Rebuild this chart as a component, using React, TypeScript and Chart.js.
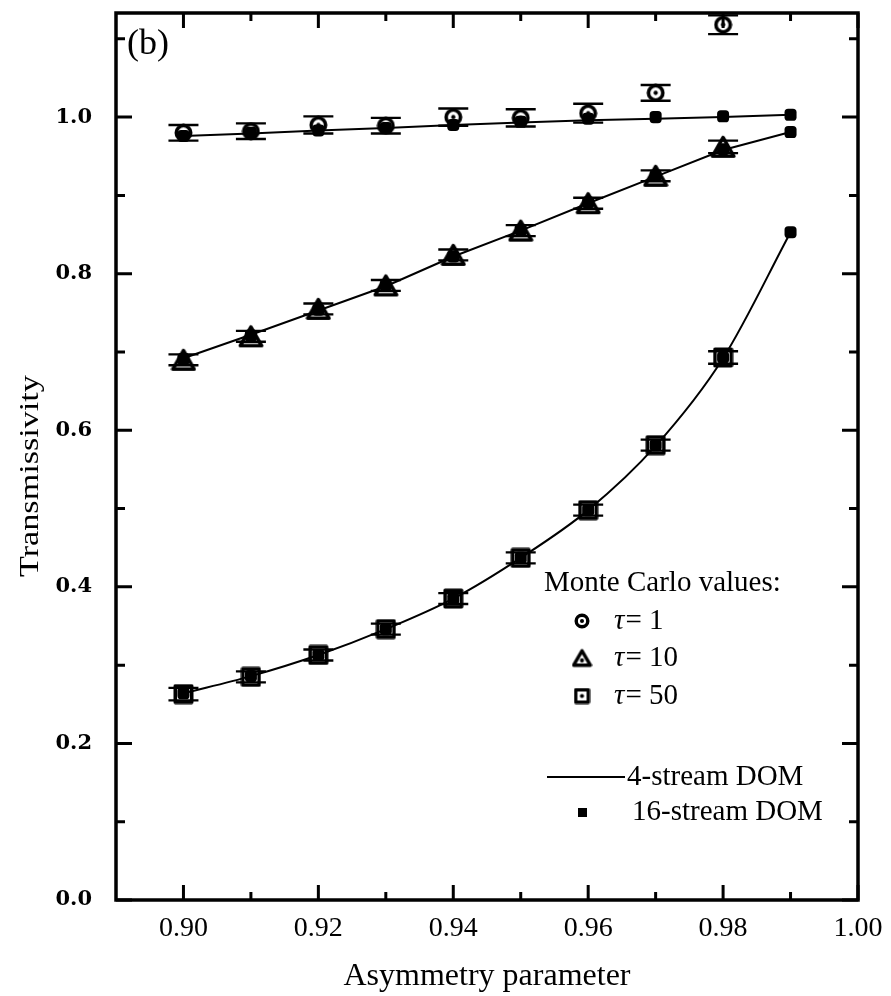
import React, { useEffect, useRef } from 'react';
import { Chart, registerables } from 'chart.js';
Chart.register(...registerables);

// ---- data ----
const asymmetry = [0.90, 0.91, 0.92, 0.93, 0.94, 0.95, 0.96, 0.97, 0.98, 0.99];
const mcAsymmetry = [0.90, 0.91, 0.92, 0.93, 0.94, 0.95, 0.96, 0.97, 0.98];

const dom4Tau1 = [0.976, 0.979, 0.983, 0.986, 0.990, 0.993, 0.996, 0.998, 1.000, 1.003];
const dom16Tau1 = [0.976, 0.980, 0.983, 0.986, 0.990, 0.994, 0.998, 1.000, 1.001, 1.003];
const dom4Tau10 = [0.692, 0.722, 0.753, 0.784, 0.822, 0.855, 0.890, 0.924, 0.958, 0.981];
const dom16Tau10 = [0.691, 0.721, 0.754, 0.785, 0.822, 0.856, 0.891, 0.925, 0.959, 0.981];
const dom4Tau50 = [0.264, 0.286, 0.313, 0.346, 0.385, 0.437, 0.498, 0.580, 0.692, 0.853];
const dom16Tau50 = [0.264, 0.286, 0.313, 0.346, 0.385, 0.437, 0.498, 0.581, 0.693, 0.853];

const mcTau1 = [0.980, 0.982, 0.990, 0.989, 1.000, 0.999, 1.005, 1.031, 1.118];
const mcTau1Err = [0.010, 0.010, 0.011, 0.010, 0.011, 0.011, 0.012, 0.010, 0.012];
const mcTau10 = [0.690, 0.720, 0.755, 0.785, 0.824, 0.855, 0.890, 0.925, 0.962];
const mcTau10Err = [0.007, 0.007, 0.007, 0.007, 0.007, 0.007, 0.007, 0.007, 0.008];
const mcTau50 = [0.263, 0.285, 0.313, 0.346, 0.385, 0.437, 0.498, 0.581, 0.693];
const mcTau50Err = [0.008, 0.007, 0.007, 0.007, 0.007, 0.007, 0.007, 0.007, 0.008];

const xMajorTicks = [0.90, 0.92, 0.94, 0.96, 0.98, 1.00];
const xMinorTicks = [0.91, 0.93, 0.95, 0.97, 0.99];
const yMajorTicks = [0.0, 0.2, 0.4, 0.6, 0.8, 1.0];
const yMinorTicks = [0.1, 0.3, 0.5, 0.7, 0.9, 1.1];

const xTitle = 'Asymmetry parameter';
const yTitle = 'Transmissivity';
const panelLabel = '(b)';
const legendTitle = 'Monte Carlo values:';
const legendTaus = ['1', '10', '50'];
const legendDom4 = '4-stream DOM';
const legendDom16 = '16-stream DOM';

const SERIF = '"Liberation Serif", "Times New Roman", serif';

function pts(xs: number[], ys: number[]) {
  return ys.map((y, i) => ({ x: xs[i], y }));
}

function makeMarker(kind: string, size: number, lw: number): HTMLCanvasElement {
  const c = document.createElement('canvas');
  c.width = size;
  c.height = size;
  const ctx = c.getContext('2d')!;
  ctx.strokeStyle = '#000';
  ctx.fillStyle = '#000';
  ctx.lineWidth = lw;
  ctx.lineJoin = 'round';
  const m = size / 2;
  const e = lw / 2 + 0.5;
  let dy = m;
  ctx.beginPath();
  if (kind === 'circle') {
    ctx.arc(m, m, m - e, 0, Math.PI * 2);
  } else if (kind === 'square') {
    ctx.rect(e, e, size - 2 * e, size - 2 * e);
  } else {
    const h = (size - 2 * e) * 0.87;
    const top = (size - h) / 2;
    ctx.moveTo(m, top);
    ctx.lineTo(size - e, top + h);
    ctx.lineTo(e, top + h);
    ctx.closePath();
    dy = top + (2 * h) / 3;
  }
  ctx.stroke();
  ctx.beginPath();
  ctx.arc(m, dy, lw * 0.6, 0, Math.PI * 2);
  ctx.fill();
  return c;
}

export default function App() {
  const ref = useRef<HTMLCanvasElement>(null);

  useEffect(() => {
    const circle = makeMarker('circle', 19, 3.6);
    const triangle = makeMarker('triangle', 26, 3.6);
    const square = makeMarker('square', 21, 3.6);
    const lgCircle = makeMarker('circle', 16, 3.4);
    const lgTriangle = makeMarker('triangle', 21, 3.4);
    const lgSquare = makeMarker('square', 17, 3.4);
    const legendMarkers = [lgCircle, lgTriangle, lgSquare];

    const errorSeries = [
      { vals: mcTau1, errs: mcTau1Err, half: 8 },
      { vals: mcTau10, errs: mcTau10Err, half: 10 },
      { vals: mcTau50, errs: mcTau50Err, half: 10 },
    ];

    const decorPlugin = {
      id: 'decor',
      afterDatasetsDraw(chart: any) {
        const ctx = chart.ctx;
        const xs = chart.scales.x;
        const ys = chart.scales.y;
        ctx.save();
        ctx.strokeStyle = '#000';
        ctx.lineWidth = 2.4;
        errorSeries.forEach((s) => {
          s.vals.forEach((v, i) => {
            const px = xs.getPixelForValue(mcAsymmetry[i]);
            const pc = ys.getPixelForValue(v);
            const pt = ys.getPixelForValue(v + s.errs[i]);
            const pb = ys.getPixelForValue(v - s.errs[i]);
            ctx.beginPath();
            ctx.moveTo(px - 15, pt);
            ctx.lineTo(px + 15, pt);
            ctx.moveTo(px - 15, pb);
            ctx.lineTo(px + 15, pb);
            if (pc - s.half > pt) {
              ctx.moveTo(px, pt);
              ctx.lineTo(px, pc - s.half);
            }
            if (pc + s.half < pb) {
              ctx.moveTo(px, pc + s.half);
              ctx.lineTo(px, pb);
            }
            ctx.stroke();
          });
        });
        ctx.restore();
      },
      afterDraw(chart: any) {
        const ctx = chart.ctx;
        const xs = chart.scales.x;
        const ys = chart.scales.y;
        const a = chart.chartArea;
        ctx.save();
        ctx.strokeStyle = '#000';
        // frame
        ctx.lineWidth = 3.5;
        ctx.strokeRect(a.left, a.top, a.right - a.left, a.bottom - a.top);
        // ticks
        ctx.lineWidth = 3;
        ctx.beginPath();
        const xt = (v: number, len: number) => {
          const p = xs.getPixelForValue(v);
          ctx.moveTo(p, a.bottom);
          ctx.lineTo(p, a.bottom - len);
          ctx.moveTo(p, a.top);
          ctx.lineTo(p, a.top + len);
        };
        const yt = (v: number, len: number) => {
          const p = ys.getPixelForValue(v);
          ctx.moveTo(a.left, p);
          ctx.lineTo(a.left + len, p);
          ctx.moveTo(a.right, p);
          ctx.lineTo(a.right - len, p);
        };
        xMajorTicks.forEach((v) => xt(v, 15));
        xMinorTicks.forEach((v) => xt(v, 8));
        yMajorTicks.forEach((v) => yt(v, 16));
        yMinorTicks.forEach((v) => yt(v, 9));
        ctx.stroke();

        // panel label
        ctx.fillStyle = '#000';
        ctx.textBaseline = 'middle';
        ctx.textAlign = 'left';
        ctx.font = `36px ${SERIF}`;
        ctx.fillText(panelLabel, 127, 45);

        // y title
        ctx.save();
        ctx.translate(31, 476);
        ctx.rotate(-Math.PI / 2);
        ctx.scale(1.22, 1);
        ctx.textAlign = 'center';
        ctx.font = `28px ${SERIF}`;
        ctx.fillText(yTitle, 0, 0);
        ctx.restore();

        // legend
        ctx.textAlign = 'left';
        ctx.font = `29px ${SERIF}`;
        ctx.fillText(legendTitle, 544, 583);
        const rowY = [621, 658, 696];
        legendTaus.forEach((t, i) => {
          const m = legendMarkers[i];
          ctx.drawImage(m, 582 - m.width / 2, rowY[i] - m.height / 2);
          ctx.font = `italic 29px ${SERIF}`;
          ctx.fillText('\u03c4', 614, rowY[i]);
          const tw = ctx.measureText('\u03c4').width;
          ctx.font = `29px ${SERIF}`;
          ctx.fillText('= ' + t, 614 + tw + 1, rowY[i]);
        });
        ctx.lineWidth = 2;
        ctx.beginPath();
        ctx.moveTo(547, 777);
        ctx.lineTo(625, 777);
        ctx.stroke();
        ctx.fillText(legendDom4, 627, 777);
        ctx.fillRect(578, 808, 9, 9);
        ctx.fillText(legendDom16, 632, 812);
        ctx.restore();
      },
    };

    const chart = new Chart(ref.current!, {
      type: 'scatter',
      data: {
        datasets: [
          { label: 'MC tau=1', data: pts(mcAsymmetry, mcTau1), pointStyle: circle as any, pointRadius: 10, order: 0 },
          { label: 'MC tau=10', data: pts(mcAsymmetry, mcTau10), pointStyle: triangle as any, pointRadius: 12, order: 0 },
          { label: 'MC tau=50', data: pts(mcAsymmetry, mcTau50), pointStyle: square as any, pointRadius: 10, order: 0 },
          { label: '16 tau=1', data: pts(asymmetry, dom16Tau1), pointStyle: 'rectRounded', pointRadius: 7, backgroundColor: '#000', borderWidth: 0, order: 1 },
          { label: '16 tau=10', data: pts(asymmetry, dom16Tau10), pointStyle: 'rectRounded', pointRadius: 7, backgroundColor: '#000', borderWidth: 0, order: 1 },
          { label: '16 tau=50', data: pts(asymmetry, dom16Tau50), pointStyle: 'rectRounded', pointRadius: 7, backgroundColor: '#000', borderWidth: 0, order: 1 },
          { label: '4 tau=1', data: pts(asymmetry, dom4Tau1), showLine: true, pointRadius: 0, borderColor: '#000', borderWidth: 2, order: 2 },
          { label: '4 tau=10', data: pts(asymmetry, dom4Tau10), showLine: true, pointRadius: 0, borderColor: '#000', borderWidth: 2, order: 2 },
          { label: '4 tau=50', data: pts(asymmetry, dom4Tau50), showLine: true, pointRadius: 0, borderColor: '#000', borderWidth: 2, cubicInterpolationMode: 'monotone', order: 2 },
        ] as any,
      },
      options: {
        animation: false,
        responsive: true,
        maintainAspectRatio: false,
        layout: { padding: { left: 0, right: 33, top: 13, bottom: 0 } },
        plugins: { legend: { display: false }, tooltip: { enabled: false } },
        scales: {
          x: {
            type: 'linear',
            min: 0.89,
            max: 1.0,
            grid: { display: false, drawTicks: false },
            border: { display: false },
            afterBuildTicks: (s: any) => { s.ticks = xMajorTicks.map((v) => ({ value: v })); },
            afterFit: (s: any) => { s.height = 96; s.paddingLeft = 0; s.paddingRight = 0; },
            ticks: {
              color: '#000',
              padding: 12,
              maxRotation: 0,
              font: { family: SERIF, size: 28 },
              callback: (v: any) => Number(v).toFixed(2),
            },
            title: {
              display: true,
              text: xTitle,
              color: '#000',
              font: { family: SERIF, size: 32 },
              padding: { top: 0, bottom: 0 },
            },
          },
          y: {
            type: 'linear',
            min: 0,
            max: 1.133,
            grid: { display: false, drawTicks: false },
            border: { display: false },
            afterBuildTicks: (s: any) => { s.ticks = yMajorTicks.map((v) => ({ value: v })); },
            afterFit: (s: any) => { s.width = 116; s.paddingTop = 0; s.paddingBottom = 0; },
            ticks: {
              color: '#000',
              padding: 24,
              font: { family: '"DejaVu Serif", serif', size: 21, weight: 'bold' },
              callback: (v: any) => Number(v).toFixed(1),
            },
          },
        },
      } as any,
      plugins: [decorPlugin],
    });
    return () => chart.destroy();
  }, []);

  return (
    <div style={{ position: 'fixed', left: 0, top: 0, width: 891, height: 996, background: '#fff' }}>
      <canvas ref={ref} />
    </div>
  );
}
